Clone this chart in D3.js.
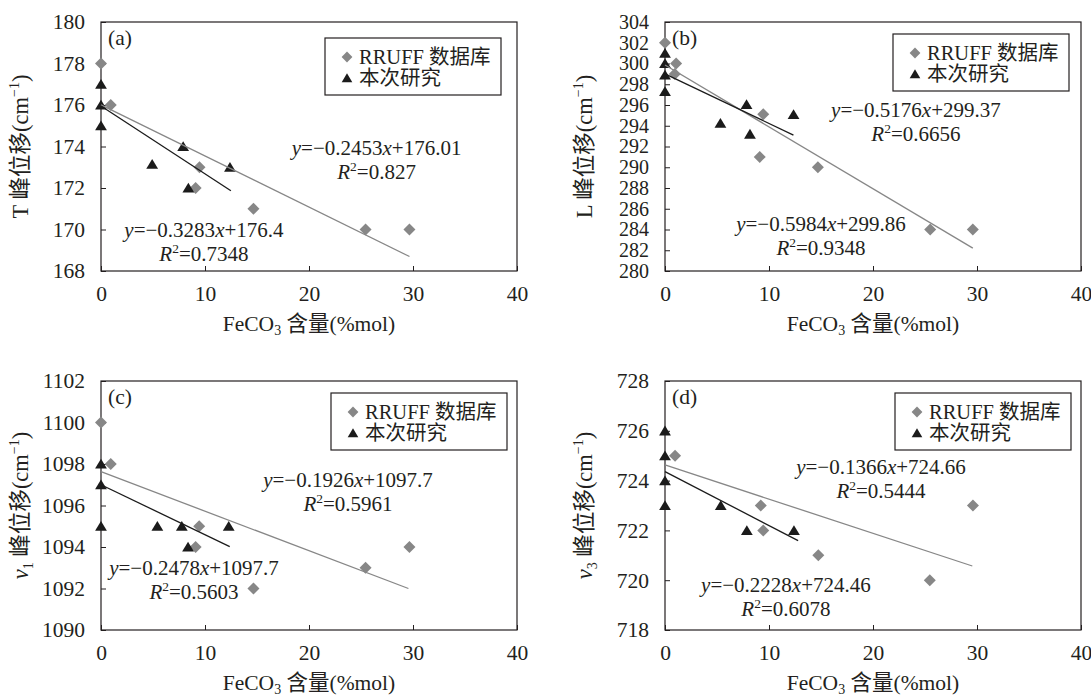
<!DOCTYPE html>
<html>
<head>
<meta charset="utf-8">
<script src="https://cdn.jsdelivr.net/npm/d3@7"></script>
<style>
  body { margin: 0; background: #fff; }
</style>
</head>
<body>
<div id="chart"></div>
<script>
const xTicks = [0, 10, 20, 30, 40];
const legendLabels = ["RRUFF 数据库", "本次研究"];
const panelLabels = ["(a)", "(b)", "(c)", "(d)"];

// (a) T peak
const yTicksA = [168, 170, 172, 174, 176, 178, 180];
const rruffA = [[0, 178], [0.94, 176], [9.47, 173], [9.1, 172], [14.66, 171], [25.44, 170], [29.66, 170]];
const studyA = [[0, 177], [0, 176], [0, 175], [4.92, 173.15], [7.9, 174], [8.4, 172], [12.4, 173]];
const trendRruffA = [[0, 176.01], [29.66, 168.7]];
const trendStudyA = [[0, 175.95], [12.49, 171.87]];
const eqRruffA = ["0.2453", "176.01", "0.827"];
const eqStudyA = ["0.3283", "176.4", "0.7348"];

// (b) L peak
const yTicksB = [280, 282, 284, 286, 288, 290, 292, 294, 296, 298, 300, 302, 304];
const rruffB = [[0, 302], [1.07, 300], [0.94, 299], [9.45, 295.1], [9.11, 291], [14.7, 290], [25.5, 284], [29.6, 284]];
const studyB = [[0, 301], [0, 300], [0, 298.9], [0, 297.3], [5.33, 294.25], [7.84, 296.05], [8.17, 293.2], [12.36, 295.1]];
const trendRruffB = [[0, 299.86], [29.6, 282.2]];
const trendStudyB = [[0, 299.0], [12.35, 293.1]];
const eqRruffB = ["0.5984", "299.86", "0.9348"];
const eqStudyB = ["0.5176", "299.37", "0.6656"];

// (c) v1 peak
const yTicksC = [1090, 1092, 1094, 1096, 1098, 1100, 1102];
const rruffC = [[0, 1100], [0.94, 1098], [9.44, 1095], [9.1, 1094], [14.66, 1092], [25.44, 1093], [29.66, 1094]];
const studyC = [[0, 1098], [0, 1097], [0, 1095], [5.42, 1095], [7.77, 1095], [8.37, 1094], [12.28, 1095]];
const trendRruffC = [[0, 1097.63], [29.56, 1092.0]];
const trendStudyC = [[0, 1097.0], [12.38, 1094.02]];
const eqRruffC = ["0.1926", "1097.7", "0.5961"];
const eqStudyC = ["0.2478", "1097.7", "0.5603"];

// (d) v3 peak
const yTicksD = [718, 720, 722, 724, 726, 728];
const rruffD = [[0.97, 725], [9.21, 723], [9.45, 722], [14.74, 721], [25.46, 720], [29.61, 723]];
const studyD = [[0, 726], [0, 725], [0, 724], [0, 723], [5.36, 723], [7.87, 722], [12.4, 722]];
const trendRruffD = [[0, 724.63], [29.55, 720.57]];
const trendStudyD = [[0, 724.36], [12.8, 721.59]];
const eqRruffD = ["0.1366", "724.66", "0.5444"];
const eqStudyD = ["0.2228", "724.46", "0.6078"];

const width = 1091, height = 697;
const W = 416, H = 249;
const fontFamily = "'Liberation Serif', 'DejaVu Serif', 'Noto Sans CJK SC', serif";
const textColor = "#231f20";
const gray = "#878787";
const dark = "#1b1b1b";

const panels = [
  { left: 101, top: 22, yTicks: yTicksA, rruff: rruffA, study: studyA, tR: trendRruffA, tS: trendStudyA,
    eqR: eqRruffA, eqS: eqStudyA, name: "T", sub: null, tickFont: 21.5,
    eqRPos: [26.5, 173.93], eqSPos: [9.9, 169.98], legend: [224, 16] },
  { left: 665, top: 22, yTicks: yTicksB, rruff: rruffB, study: studyB, tR: trendRruffB, tS: trendStudyB,
    eqR: eqRruffB, eqS: eqStudyB, name: "L", sub: null, tickFont: 20,
    eqRPos: [15.0, 284.53], eqSPos: [24.13, 295.52], legend: [228, 12] },
  { left: 101, top: 381, yTicks: yTicksC, rruff: rruffC, study: studyC, tR: trendRruffC, tS: trendStudyC,
    eqR: eqRruffC, eqS: eqStudyC, name: "v", sub: "1", tickFont: 21.5,
    eqRPos: [23.75, 1097.23], eqSPos: [8.94, 1092.99], legend: [230, 12] },
  { left: 665, top: 381, yTicks: yTicksD, rruff: rruffD, study: studyD, tR: trendRruffD, tS: trendStudyD,
    eqR: eqRruffD, eqS: eqStudyD, name: "v", sub: "3", tickFont: 21.5,
    eqRPos: [20.77, 724.55], eqSPos: [11.63, 719.81], legend: [230, 12] }
];

const diamond = "M0,-6L6,0L0,6L-6,0Z";
const triangle = "M0,-5.2L5.9,4.6L-5.9,4.6Z";

const svg = d3.select("#chart").append("svg")
  .attr("width", width)
  .attr("height", height)
  .attr("font-family", fontFamily)
  .style("font-family", fontFamily)
  .attr("fill", textColor);

panels.forEach((p, i) => {
  const g = svg.append("g").attr("transform", `translate(${p.left},${p.top})`);

  const x = d3.scaleLinear().domain([0, 40]).range([0, W]);
  const y = d3.scaleLinear().domain(d3.extent(p.yTicks)).range([H, 0]);

  g.append("g")
    .attr("transform", `translate(0,${H})`)
    .call(d3.axisBottom(x).tickValues(xTicks).tickFormat(d3.format("d")).tickSize(-5).tickPadding(15))
    .call(a => a.select(".domain").remove())
    .attr("font-size", 21.5).attr("font-family", fontFamily)
    .style("color", textColor);

  g.append("g")
    .call(d3.axisLeft(y).tickValues(p.yTicks).tickFormat(d3.format("d")).tickSize(-5).tickPadding(16))
    .call(a => a.select(".domain").remove())
    .attr("font-size", p.tickFont).attr("font-family", fontFamily)
    .style("color", textColor);

  g.append("rect")
    .attr("width", W).attr("height", H)
    .attr("fill", "none").attr("stroke", textColor).attr("stroke-width", 1.2);

  // y title
  const yt = g.append("text")
    .attr("transform", `translate(-73,${H / 2}) rotate(-90)`)
    .attr("text-anchor", "middle")
    .attr("font-size", 22.5);
  if (p.sub) {
    yt.append("tspan").attr("font-style", "italic").text(p.name);
    yt.append("tspan").attr("font-size", 14).attr("dy", 5).text(p.sub);
    yt.append("tspan").attr("dy", -5).text(" 峰位移(cm");
  } else {
    yt.append("tspan").text(p.name + " 峰位移(cm");
  }
  yt.append("tspan").attr("font-size", 14).attr("dy", -9).text("−1");
  yt.append("tspan").attr("dy", 9).text(")");

  // x title
  const xt = g.append("text")
    .attr("x", W / 2).attr("y", H + 60)
    .attr("text-anchor", "middle")
    .attr("font-size", 21.5);
  xt.append("tspan").text("FeCO");
  xt.append("tspan").attr("font-size", 14).attr("dy", 4).text("3");
  xt.append("tspan").attr("dy", -4).text(" 含量(%mol)");

  // panel label
  g.append("text").attr("x", 7).attr("y", 23).attr("font-size", 21.5).text(panelLabels[i]);

  // markers
  g.selectAll(".rr").data(p.rruff).join("path")
    .attr("class", "rr")
    .attr("d", diamond)
    .attr("transform", d => `translate(${x(d[0])},${y(d[1])})`)
    .attr("fill", gray);

  g.selectAll(".st").data(p.study).join("path")
    .attr("class", "st")
    .attr("d", triangle)
    .attr("transform", d => `translate(${x(d[0])},${y(d[1])})`)
    .attr("fill", dark);

  // trendlines
  const line = d3.line().x(d => x(d[0])).y(d => y(d[1]));
  g.append("path").datum(p.tR).attr("d", line)
    .attr("fill", "none").attr("stroke", gray).attr("stroke-width", 1.3);
  g.append("path").datum(p.tS).attr("d", line)
    .attr("fill", "none").attr("stroke", dark).attr("stroke-width", 1.3);

  // equations
  function equation(pos, eq) {
    const t = g.append("text")
      .attr("x", x(pos[0])).attr("y", y(pos[1]) + 7)
      .attr("text-anchor", "middle").attr("font-size", 21);
    t.append("tspan").attr("font-style", "italic").text("y");
    t.append("tspan").text("=−" + eq[0]);
    t.append("tspan").attr("font-style", "italic").text("x");
    t.append("tspan").text("+" + eq[1]);

    const r = g.append("text")
      .attr("x", x(pos[0])).attr("y", y(pos[1]) + 31)
      .attr("text-anchor", "middle").attr("font-size", 21);
    r.append("tspan").attr("font-style", "italic").text("R");
    r.append("tspan").attr("font-size", 13.5).attr("dy", -8).text("2");
    r.append("tspan").attr("dy", 8).text("=" + eq[2]);
  }
  equation(p.eqRPos, p.eqR);
  equation(p.eqSPos, p.eqS);

  // legend
  const lg = g.append("g").attr("transform", `translate(${p.legend[0]},${p.legend[1]})`);
  lg.append("rect").attr("width", 176).attr("height", 57)
    .attr("fill", "#fff").attr("stroke", textColor).attr("stroke-width", 1.2);
  lg.append("path").attr("d", diamond).attr("transform", "translate(22,19) scale(0.9)").attr("fill", gray);
  lg.append("path").attr("d", triangle).attr("transform", "translate(22,40) scale(0.9)").attr("fill", dark);
  lg.append("text").attr("x", 34).attr("y", 26).attr("font-size", 20.5).text(legendLabels[0]);
  lg.append("text").attr("x", 34).attr("y", 47).attr("font-size", 20.5).text(legendLabels[1]);
});
</script>
</body>
</html>
